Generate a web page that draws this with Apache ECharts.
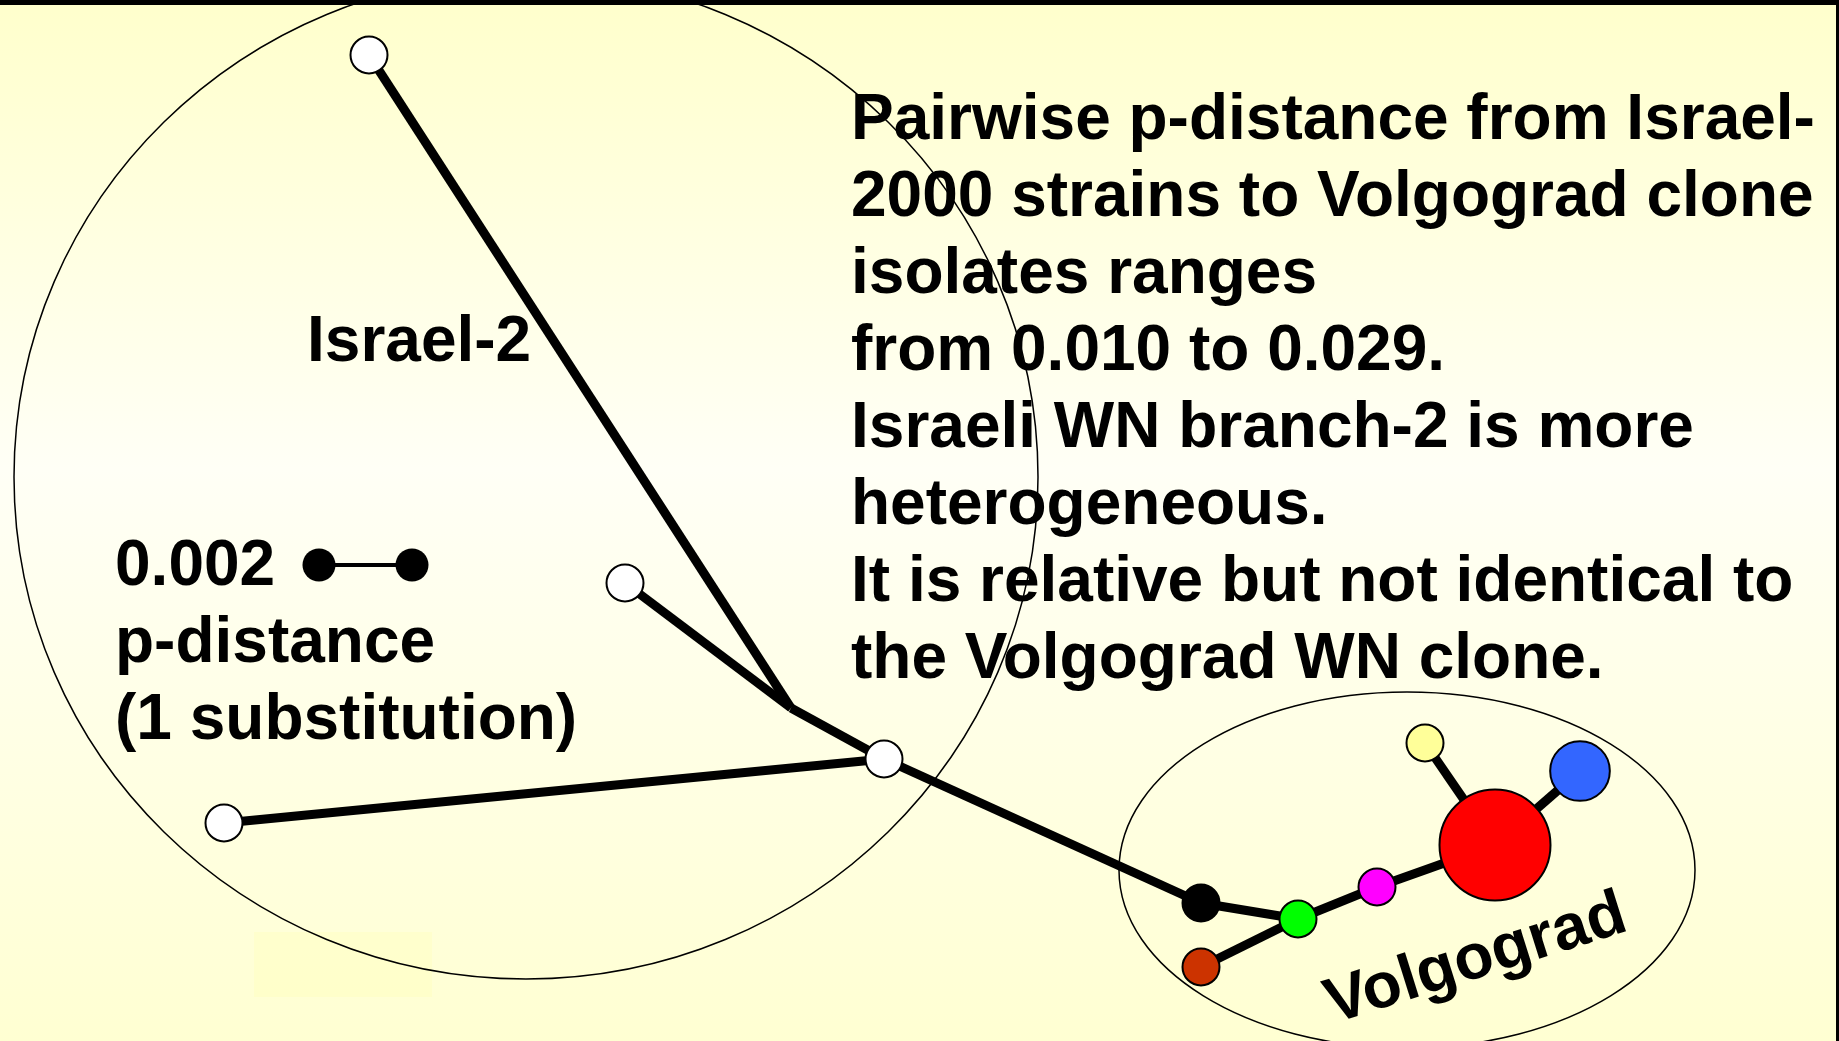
<!DOCTYPE html>
<html>
<head>
<meta charset="utf-8">
<style>
  html, body { margin: 0; padding: 0; }
  #chart { width: 1839px; height: 1041px; }
</style>
<script src="https://cdn.jsdelivr.net/npm/echarts@6/dist/echarts.min.js"></script>
</head>
<body>
<div id="chart"></div>
<script>
// haplotype network, positions in picture units (x right, y down)
const nodeNames = ['israelTop', 'israelMid', 'israelLow', 'junction', 'israelHub',
  'volBlack', 'volGreen', 'volBrown', 'volMagenta', 'volRed', 'volYellow', 'volBlue'];
const nodeX = [369, 625, 224, 791, 884, 1201, 1298, 1201, 1377, 1495, 1425, 1580];
const nodeY = [55, 583, 823, 708, 759, 903, 919, 967, 887, 845, 743, 771];
const isolates = [1, 1, 1, 0, 1, 1, 1, 1, 1, 9, 1, 2.6];

const linkFrom = ['israelTop', 'israelMid', 'junction', 'israelLow', 'israelHub',
  'volBlack', 'volGreen', 'volGreen', 'volMagenta', 'volRed', 'volRed'];
const linkTo = ['junction', 'junction', 'israelHub', 'israelHub', 'volBlack',
  'volGreen', 'volBrown', 'volMagenta', 'volRed', 'volYellow', 'volBlue'];

// group outlines: cx, cy, rx, ry
const groupNames = ['Israel-2', 'Volgograd'];
const groupShapes = [[526, 477, 512, 502], [1407, 870, 288, 178]];

// scale bar (0.002 p-distance)
const scaleX = [319, 412];
const scaleY = [565, 565];

const noteLines = [
  'Pairwise p-distance from Israel-',
  '2000 strains to Volgograd clone',
  'isolates ranges',
  'from 0.010 to 0.029.',
  'Israeli WN branch-2 is more',
  'heterogeneous.',
  'It is relative but not identical to',
  'the Volgograd WN clone.'
];
const scaleLines = ['0.002', 'p-distance', '(1 substitution)'];

const nodeColors = {
  israelTop: '#ffffff', israelMid: '#ffffff', israelLow: '#ffffff', israelHub: '#ffffff',
  volBlack: '#000000', volGreen: '#00ff00', volBrown: '#cc3300', volMagenta: '#ff00ff',
  volRed: '#ff0000', volYellow: '#ffff99', volBlue: '#3366ff'
};

const FONT = '"Liberation Sans", Arial, sans-serif';

const chart = echarts.init(document.getElementById('chart'));

const nodes = nodeNames.map(function (n, i) {
  const size = isolates[i] ? 37 * Math.sqrt(isolates[i]) : 0;
  return {
    name: n,
    value: [nodeX[i], nodeY[i]],
    symbolSize: size,
    symbol: isolates[i] ? 'circle' : 'none',
    itemStyle: { color: nodeColors[n] || '#000', borderColor: '#000', borderWidth: 2 }
  };
});
const links = linkFrom.map(function (s, i) {
  return { source: s, target: linkTo[i] };
});

const textEls = [];
noteLines.forEach(function (t, i) {
  textEls.push({
    type: 'text', x: 851, y: 121 + 77 * i, z: 0,
    style: { text: t, font: 'bold 64px ' + FONT, fill: '#000', verticalAlign: 'middle' }
  });
});
scaleLines.forEach(function (t, i) {
  textEls.push({
    type: 'text', x: 115, y: 567 + 77 * i, z: 0,
    style: { text: t, font: 'bold 64px ' + FONT, fill: '#000', verticalAlign: 'middle' }
  });
});
textEls.push({
  type: 'text', x: 307, y: 343, z: 0,
  style: { text: groupNames[0], font: 'bold 64px ' + FONT, fill: '#000', verticalAlign: 'middle' }
});
textEls.push({
  type: 'text', x: 1476, y: 960, z: 0, rotation: 17.5 * Math.PI / 180,
  style: { text: groupNames[1], font: 'bold 64px ' + FONT, fill: '#000', align: 'center', verticalAlign: 'middle' }
});

const option = {
  backgroundColor: {
    type: 'linear', x: 0, y: 0, x2: 0, y2: 1,
    colorStops: [
      { offset: 0, color: '#ffffcc' },
      { offset: 0.45, color: '#fffff6' },
      { offset: 1, color: '#ffffd2' }
    ]
  },
  animation: false,
  grid: { left: 0, right: 0, top: 0, bottom: 0 },
  xAxis: { type: 'value', min: 0, max: 1839, show: false },
  yAxis: { type: 'value', min: 0, max: 1041, inverse: true, show: false },
  graphic: textEls.concat([
    { type: 'rect', z: -1, shape: { x: 254, y: 932, width: 178, height: 65 }, style: { fill: 'rgba(255,255,170,0.25)' } },
    { type: 'rect', z: 100, shape: { x: 0, y: 0, width: 1839, height: 5 }, style: { fill: '#000' } },
    { type: 'rect', z: 100, shape: { x: 1836, y: 0, width: 3, height: 1041 }, style: { fill: '#000' } }
  ]),
  series: [
    {
      type: 'custom',
      coordinateSystem: 'cartesian2d',
      z: 1,
      silent: true,
      data: groupShapes,
      renderItem: function (params, api) {
        const c = api.coord([api.value(0), api.value(1)]);
        const e = api.coord([api.value(0) + api.value(2), api.value(1) + api.value(3)]);
        return {
          type: 'ellipse',
          shape: { cx: c[0], cy: c[1], rx: Math.abs(e[0] - c[0]), ry: Math.abs(e[1] - c[1]) },
          style: { fill: 'none', stroke: '#000', lineWidth: 1.5 }
        };
      }
    },
    {
      type: 'graph',
      coordinateSystem: 'cartesian2d',
      layout: 'none',
      z: 2,
      silent: true,
      data: nodes,
      links: links,
      lineStyle: { color: '#000', width: 9, opacity: 1, curveness: 0 },
      label: { show: false }
    },
    {
      type: 'graph',
      coordinateSystem: 'cartesian2d',
      layout: 'none',
      z: 2,
      silent: true,
      data: scaleX.map(function (x, i) {
        return { name: 's' + i, value: [x, scaleY[i]], symbolSize: 33, itemStyle: { color: '#000' } };
      }),
      links: [{ source: 's0', target: 's1' }],
      lineStyle: { color: '#000', width: 4, opacity: 1 },
      label: { show: false }
    }
  ]
};

chart.setOption(option);
</script>
</body>
</html>
